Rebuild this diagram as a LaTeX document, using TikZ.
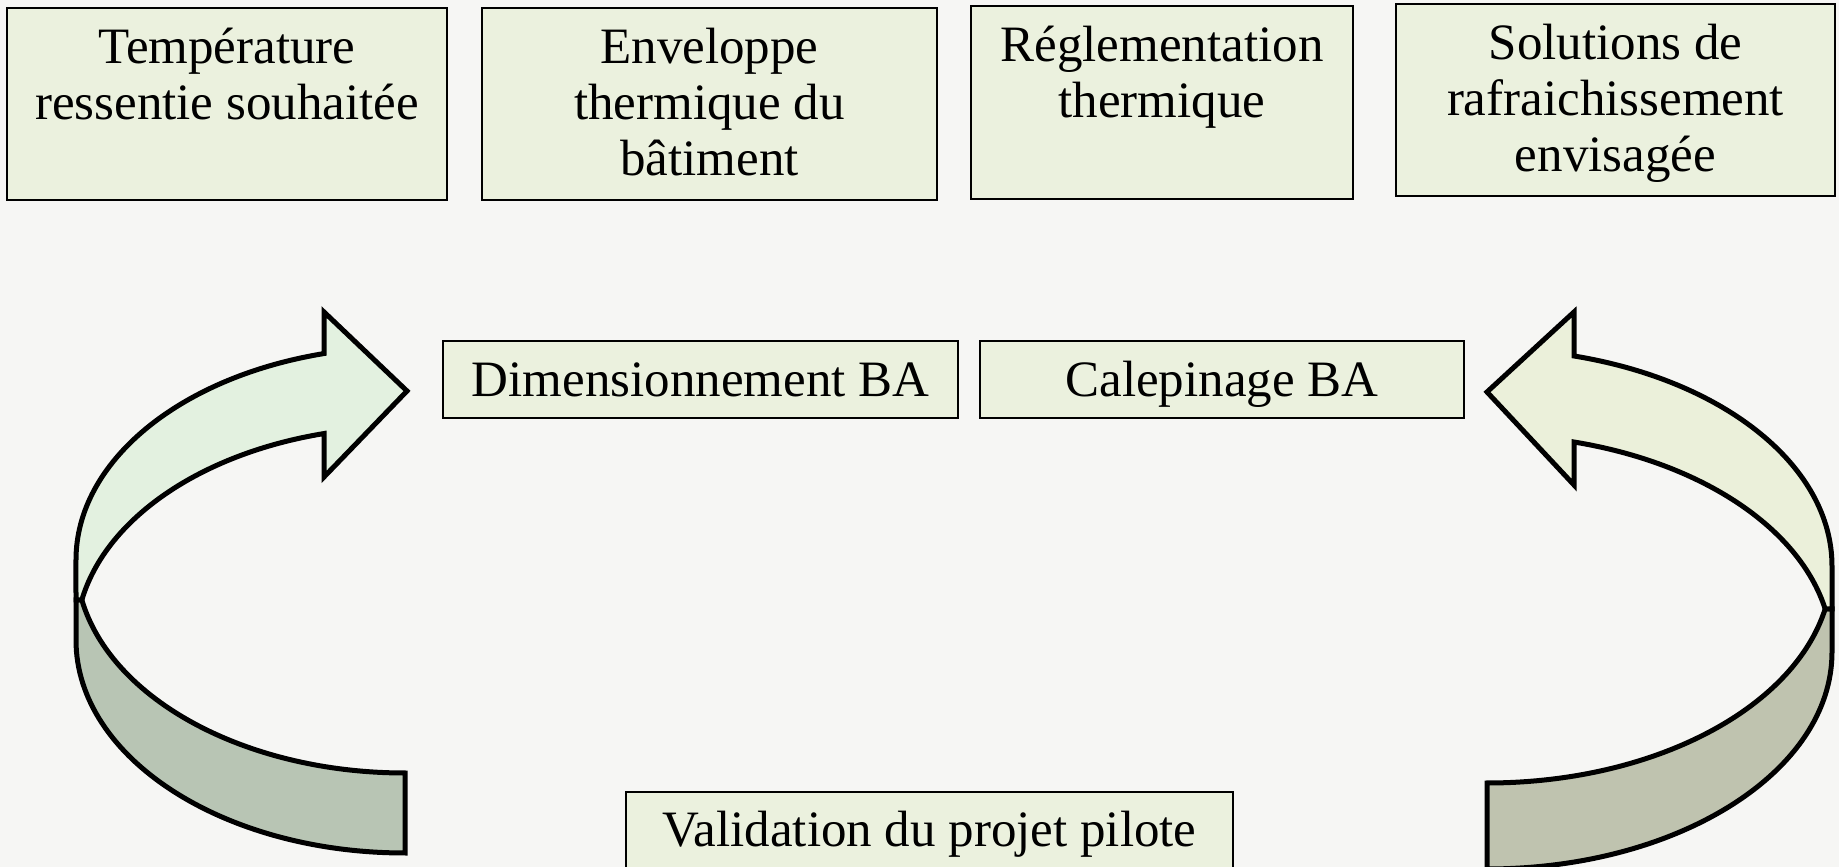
\documentclass[tikz,border=0pt]{standalone}
\usepackage{fontspec}
\setmainfont{Liberation Serif}
\usetikzlibrary{positioning}

\definecolor{paper}{HTML}{F6F6F4}
\definecolor{boxfill}{HTML}{EBF1DE}
\definecolor{leftlight}{HTML}{E3F1E0}
\definecolor{leftdark}{HTML}{B8C5B4}
\definecolor{rightlight}{HTML}{EBF0DA}
\definecolor{rightdark}{HTML}{BFC3AF}

\begin{document}
\begin{tikzpicture}[
      x=1pt, y=1pt,
      box/.style={
        draw,
        fill=boxfill,
        line width=2pt,
        inner sep=0pt,
        font=\fontsize{51}{56}\selectfont
      },
      ribbon/.style={
        draw,
        line width=5pt,
        line join=miter
      }
    ]
    %% Background
    \fill[paper] (0,0) rectangle (1839,867);
    \useasboundingbox (0,0) rectangle (1839,867);

    %% Inputs
    \node[box] (temp) at (227,763) {\parbox[c][192pt][t]{440pt}{\centering\rule{0pt}{56pt}Température\\ressentie souhaitée}};
    \node[box] (env) at (709.5,763) {\parbox[c][192pt][t]{455pt}{\centering\rule{0pt}{56pt}Enveloppe\\thermique du\\bâtiment}};
    \node[box] (regl) at (1162,764.5) {\parbox[c][193pt][t]{382pt}{\centering\rule{0pt}{56pt}Réglementation\\thermique}};
    \node[box] (sol) at (1615.5,767) {\parbox[c][192pt][t]{439pt}{\centering\rule{0pt}{56pt}Solutions de\\rafraichissement\\envisagée}};

    %% Loop
    \node[box] (dim) at (700.5,487.5) {\parbox[c][77pt][t]{515pt}{\centering\rule{0pt}{56pt}Dimensionnement BA}};
    \node[box, right=20pt of dim] (calep) {\parbox[c][77pt][t]{484pt}{\centering\rule{0pt}{56pt}Calepinage BA}};
    \node[box] (valid) at (929.5,36.5) {\parbox[c][77pt][t]{607pt}{\centering\rule{0pt}{55pt}Validation du projet pilote}};

    %% Left arrow
    \coordinate (lcusp) at (81.85,267);
    \draw[ribbon, fill=leftdark] (lcusp) -- (76,267) -- (76,227)
      arc[start angle=180, end angle=270, x radius=329pt, y radius=213pt]
      -- (405,94)
      arc[start angle=270, end angle=190.82, x radius=329pt, y radius=213pt]
      -- cycle;
    \draw[ribbon, fill=leftlight] (324.02,513.45)
      arc[start angle=104.25, end angle=180, x radius=329pt, y radius=213pt]
      -- (76,267) -- (lcusp)
      arc[start angle=169.18, end angle=104.25, x radius=329pt, y radius=213pt]
      -- (324,390) -- (407,476) -- (324,555) -- cycle;

    %% Right arrow
    \coordinate (rcusp) at (1825.16,258);
    \draw[ribbon, fill=rightdark] (rcusp) -- (1832,258) -- (1832,215)
      arc[start angle=0, end angle=-90, x radius=345pt, y radius=217pt]
      -- (1487,84)
      arc[start angle=-90, end angle=-11.43, x radius=345pt, y radius=217pt]
      -- cycle;
    \draw[ribbon, fill=rightlight] (1574,511)
      arc[start angle=75.39, end angle=0, x radius=345pt, y radius=217pt]
      -- (1832,258) -- (rcusp)
      arc[start angle=11.43, end angle=75.39, x radius=345pt, y radius=217pt]
      -- (1574,382) -- (1487,475) -- (1574,555) -- cycle;
  \end{tikzpicture}
\end{document}
